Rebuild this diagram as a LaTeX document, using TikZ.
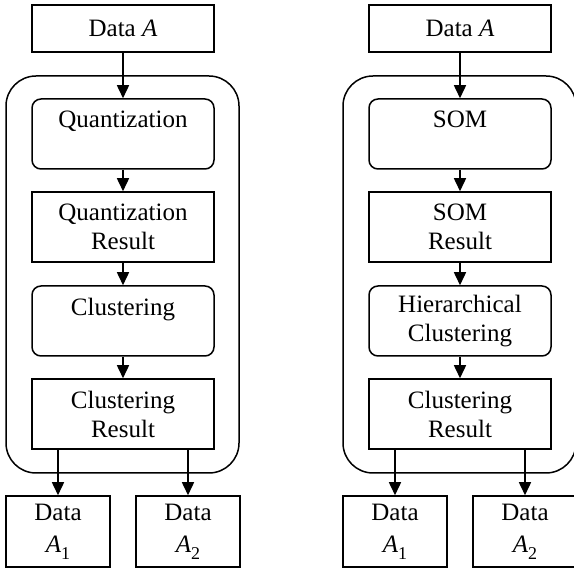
\documentclass[tikz,border=0pt]{standalone}
\usepackage{fontspec}
\setmainfont{Liberation Serif}
\usetikzlibrary{arrows.meta}
\newcommand\subidx[1]{\raisebox{-0.28em}{\fontsize{18}{18}\selectfont #1}}
\begin{document}
\begin{tikzpicture}[x=1pt,y=-1pt,line width=1.5pt,
  txt/.style={font=\fontsize{25}{29}\selectfont, align=center, inner sep=0pt},
  box/.style={draw, txt, minimum width=182pt, minimum height=70pt},
  rbox/.style={box, rounded corners=9pt},
  topbox/.style={draw, txt, minimum width=182pt, minimum height=47pt},
  outbox/.style={draw, txt, minimum width=104pt, minimum height=71pt},
  frame/.style={draw, rounded corners=30pt, minimum width=233pt, minimum height=397pt, inner sep=0pt},
  arr/.style={-{Triangle[length=13pt,width=12pt]}}]
\useasboundingbox (0,0) rectangle (574,569);
% left column
\node[frame] (frL) at (122.5,274.5) {};
\node[topbox] (inL) at (123,28.5) {Data \textit{A}};
\node[rbox] (s1L) at (123,134) {Quantization\\\mbox{}};
\node[box] (r1L) at (123,227) {Quantization\\Result};
\node[rbox] (s2L) at (123,321) {Clustering\\\mbox{}};
\node[box] (r2L) at (123,414) {Clustering\\Result};
\node[outbox] (oaL) at (58,531.5) {Data\\[3pt]\textit{A}\subidx{1}};
\node[outbox] (obL) at (188,531.5) {Data\\[3pt]\textit{A}\subidx{2}};
\draw[arr] (inL) -- (s1L);
\draw[arr] (s1L) -- (r1L);
\draw[arr] (r1L) -- (s2L);
\draw[arr] (s2L) -- (r2L);
\draw[arr] (r2L.south -| oaL) -- (oaL.north);
\draw[arr] (r2L.south -| obL) -- (obL.north);
% right column
\begin{scope}[xshift=337pt]
\node[frame] (frR) at (122.5,274.5) {};
\node[topbox] (inR) at (123,28.5) {Data \textit{A}};
\node[rbox] (s1R) at (123,134) {SOM\\\mbox{}};
\node[box] (r1R) at (123,227) {SOM\\Result};
\node[rbox] (s2R) at (123,321) {Hierarchical\\Clustering};
\node[box] (r2R) at (123,414) {Clustering\\Result};
\node[outbox] (oaR) at (58,531.5) {Data\\[3pt]\textit{A}\subidx{1}};
\node[outbox] (obR) at (188,531.5) {Data\\[3pt]\textit{A}\subidx{2}};
\draw[arr] (inR) -- (s1R);
\draw[arr] (s1R) -- (r1R);
\draw[arr] (r1R) -- (s2R);
\draw[arr] (s2R) -- (r2R);
\draw[arr] (r2R.south -| oaR) -- (oaR.north);
\draw[arr] (r2R.south -| obR) -- (obR.north);
\end{scope}
\end{tikzpicture}
\end{document}
